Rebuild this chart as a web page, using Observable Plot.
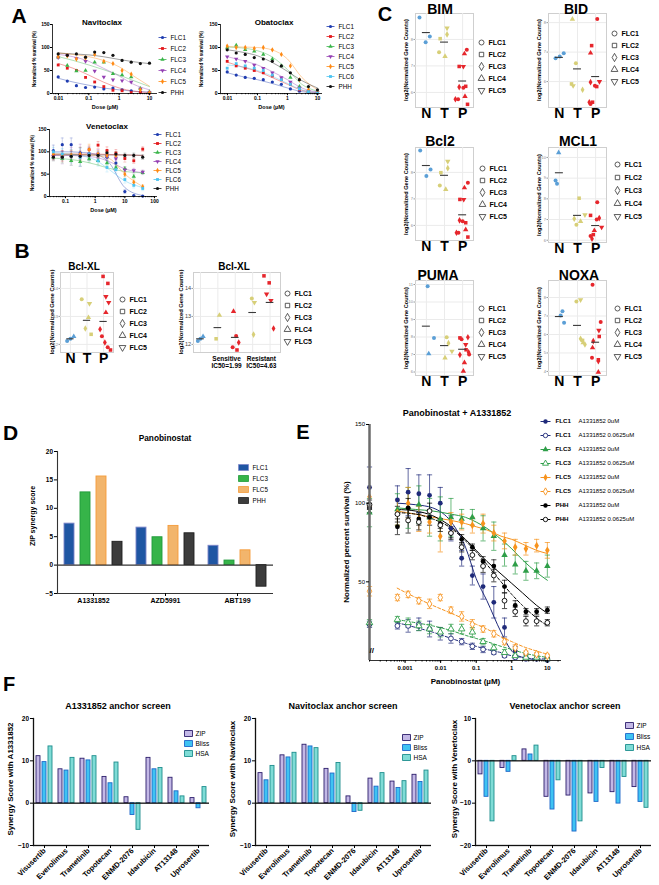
<!DOCTYPE html>
<html><head><meta charset="utf-8">
<script src="https://cdn.jsdelivr.net/npm/d3@7"></script>
<script src="https://cdn.jsdelivr.net/npm/@observablehq/plot@0.6"></script>
<style>
body{margin:0;background:#fff;}
#root{position:relative;width:659px;height:885px;overflow:hidden;background:#fff;font-family:"Liberation Sans",Arial,Helvetica,sans-serif;}
</style></head>
<body><div id="root"></div>
<script>
// ================= DATA =================
// ---- Panel A: dose-response ----
const aNames = ["FLC1","FLC2","FLC3","FLC4","FLC5","FLC6","PHH"];
const aColors = ["#1f3cb0","#e3191c","#3ab54a","#9440b3","#ff8a14","#4cc3f0","#111111"];
const aSymbols = ["circle","square","triangle","triangle","diamond","square","circle"];
const aRot = [0,0,0,180,0,0,0];
const aDoses = [0.00977,0.0195,0.039,0.078,0.156,0.3125,0.625,1.25,2.5,5,10];
const aFitDoses = [0.01,0.03,0.1,0.3,1,3,10];
const vDoses = [0.039,0.078,0.156,0.3125,0.625,1.25,2.5,5,10,20,40];
const vFitDoses = [0.04,0.1,0.3,1,3,10,40];
const navNames = ["FLC1","FLC2","FLC3","FLC4","FLC5","PHH"];
const navVals = [
  [36,27,17,13,14,10,12,8,6,3,2],
  [62,55,50,35,25,15,7,6,2,2,1],
  [79,61,49,50,68,68,43,40,36,11,4],
  [78,83,76,70,49,36,30,28,25,10,3],
  [80,82,75,77,85,70,65,50,42,8,2],
  [86,83,86,79,90,89,83,72,68,65,66]
];
const navFit = [
  [33,25,18,12,8,5,3],
  [65,55,40,25,12,5,2],
  [80,72,62,52,40,28,15],
  [85,80,70,55,38,20,8],
  [88,85,80,72,58,38,16],
  [88,86,84,80,74,69,65]
];
const obaNames = ["FLC1","FLC2","FLC3","FLC4","FLC5","FLC6","PHH"];
const obaVals = [
  [47,40,35,33,30,25,20,10,5,2,1],
  [70,60,55,50,45,38,30,20,8,3,1],
  [100,105,95,92,85,75,60,35,15,5,2],
  [80,75,70,62,55,45,35,25,12,5,2],
  [103,100,100,98,100,95,85,60,30,8,3],
  [55,65,60,55,50,40,30,20,10,4,1],
  [95,88,85,78,75,70,60,45,30,15,8]
];
const obaFit = [
  [45,37,30,22,12,4,1],
  [68,58,48,35,20,7,2],
  [101,99,93,80,52,20,5],
  [80,72,62,48,30,12,3],
  [102,101,100,95,75,35,8],
  [62,58,50,38,22,8,2],
  [95,90,82,68,48,28,12]
];
const venNames = ["FLC1","FLC2","FLC3","FLC4","FLC5","FLC6","PHH"];
const venVals = [
  [103,116,116,98,95,93,88,75,11,2,1],
  [92,90,90,92,105,115,103,97,85,80,106],
  [88,85,80,78,84,80,75,65,62,45,53],
  [90,88,90,92,95,95,90,85,60,58,55],
  [95,92,92,95,105,95,92,92,50,32,22],
  [100,95,90,88,95,80,65,60,38,25,18],
  [88,88,90,90,92,92,98,95,92,92,88]
];
const venErr = [
  [12,15,15,12,10,8,8,8,4,1,1],
  [10,12,12,10,8,8,8,8,8,6,5],
  [8,10,10,10,8,8,6,6,5,5,4],
  [10,15,20,25,15,10,8,6,6,5,4],
  [8,10,12,15,12,8,8,8,6,5,4],
  [10,12,15,20,15,12,10,8,8,6,5],
  [5,6,6,6,5,5,5,5,5,5,5]
];
const venFit = [
  [100,100,99,95,75,20,2],
  [95,95,95,95,94,93,92],
  [86,84,80,72,63,56,53],
  [92,92,91,88,78,62,53],
  [95,95,94,92,85,50,22],
  [98,96,92,82,60,35,20],
  [93,93,93,93,93,93,92]
];

// ---- Panels B & C: gene counts (x = group position with jitter, value, FLC index) ----
const cGroups = ["N","T","P"];
const cGroupColors = ["#5b9fd6","#d7cf78","#e6262c"];
const flcNames = ["FLC1","FLC2","FLC3","FLC4","FLC5"];
const flcSymbols = ["circle","square","diamond","triangle","triangle"];

const bLeftPts = [[0.8,12.12,0],[1.0,12.2,0],[1.2,12.28,3],
  [1.68,13.61,0],[2.15,13.46,4],[2.09,12.96,3],[1.9,12.57,2],[2.25,12.36,1],
  [2.97,14.43,1],[3.26,14.18,1],[3.14,13.71,4],[3.31,13.5,4],[3.14,13.14,3],[2.79,12.54,2],[2.9,12.29,0],[3.08,12.07,2],[3.25,11.9,0],[3.42,11.8,1]];
const bLeftMeans = [12.2,12.86,12.82];
const bRightGroups = ["N","T","P","T","P"];
const bRightPts = [[0.85,12.12,0],[1.0,12.2,0],[1.15,12.28,3],
  [2.09,13.04,3],[1.9,12.2,1],
  [2.9,13.18,3],[3.05,12.3,0],[3.2,12.07,2],[2.85,11.9,0],[3.1,11.8,1],
  [3.95,13.64,0],[4.1,13.5,4],[4.05,12.35,2],
  [4.65,14.45,1],[4.95,14.2,1],[4.8,13.8,4],[5.05,13.57,4],[5.2,12.57,2]];
const bRightMeans = [12.2,12.6,12.25,13.14,13.5];
const bTicks = [12,13,14];

const bimPts = [[0.62,8.83,0],[0.96,7.89,0],[1.19,8.11,0],
  [2.14,8.43,4],[2.14,8.19,2],[1.76,8.03,1],[1.7,7.52,0],[2.03,7.36,3],
  [3.23,7.61,0],[3.1,7.46,3],[2.81,6.98,1],[3.04,6.98,4],[2.81,6.2,2],[3.04,6.18,0],[3.17,6.23,1],[2.6,5.74,2],[2.75,5.74,0],[3.13,5.85,3],[3.27,5.55,1]];
const bimMeans = [8.26,7.9,6.43];
const bidPts = [[0.79,6.79,0],[1.02,6.85,0],[1.24,6.96,0],
  [1.72,8.12,3],[1.91,6.62,0],[1.67,5.92,1],[1.76,5.86,4],[2.28,5.72,2],
  [3.09,8.12,0],[2.78,7.22,1],[2.72,6.97,3],[2.72,5.98,2],[2.96,5.86,0],[3.06,5.83,1],[3.21,6.0,4],[2.65,5.3,2],[2.72,5.24,0],[2.83,5.3,1]];
const bidMeans = [6.82,6.43,6.17];
const bcl2Pts = [[0.66,8.83,0],[1.0,7.86,0],[1.23,8.11,0],
  [2.18,8.42,4],[2.18,8.16,2],[1.8,7.99,1],[1.74,7.51,0],[2.07,7.36,3],
  [3.29,7.61,0],[3.1,7.42,3],[2.85,6.98,1],[3.06,6.98,4],[2.83,6.19,2],[3.0,6.16,0],[3.17,6.1,1],[2.66,5.72,2],[2.77,5.72,0],[3.17,5.84,3],[3.29,5.56,1]];
const bcl2Means = [8.26,7.89,6.4];
const mcl1Pts = [[0.96,10.23,3],[0.79,8.89,0],[0.87,8.73,0],
  [2.09,8.03,1],[1.82,7.04,2],[1.94,6.75,0],[2.17,6.91,3],[2.41,7.23,4],
  [3.09,7.84,0],[2.72,7.2,1],[3.2,7.07,2],[3.06,7.0,0],[3.33,6.63,4],[2.93,6.47,3],[2.87,6.27,1],[2.72,6.2,0],[2.8,6.07,2]];
const mcl1Means = [9.26,7.2,6.71];
const pumaPts = [[1.07,10.9,0],[1.42,7.95,0],[1.13,7.04,3],
  [2.12,7.99,0],[2.22,7.65,2],[2.41,7.19,4],[2.03,6.81,3],
  [2.85,7.95,1],[2.94,7.87,0],[3.29,7.99,2],[3.51,8.09,0],[3.17,7.57,4],[3.19,7.27,1],[3.33,7.13,2],[3.36,7.0,0],[2.85,6.98,2],[3.1,6.53,3],[3.04,6.05,3]];
const pumaMeans = [8.62,7.51,7.3];
const noxaPts = [[1.17,7.26,0],[1.07,7.03,0],[1.26,6.63,0],
  [1.94,7.78,0],[2.17,7.87,4],[2.17,5.77,2],[2.28,5.68,1],[2.31,5.55,3],[2.41,5.46,2],
  [2.83,8.69,0],[3.28,6.67,0],[3.18,6.22,4],[3.2,5.89,1],[2.87,5.64,2],[2.83,5.28,3],[2.8,4.74,0],[3.15,4.63,1],[3.15,4.56,2],[3.15,3.96,3]];
const noxaMeans = [6.97,6.49,5.58];

// ---- Panel D ----
const dDrugs = ["A1331852","AZD5991","ABT199"];
const dLines = ["FLC1","FLC3","FLC5","PHH"];
const dVals = [[7.3,12.8,15.6,4.1],[6.6,4.9,6.9,5.6],[3.4,0.8,2.6,-3.8]];
const dFill = ["#1f56a3","#36b449","#f2b56c","#3c3c3c"];
const dStroke = ["#7d86c9","#1f9a3a","#f59b3a","#1e1e1e"];

// ---- Panel E ----
const eNames = ["FLC1","FLC1","FLC3","FLC3","FLC5","FLC5","PHH","PHH"];
const eConc = ["A1331852 0uM","A1331852 0.0625uM","A1331852 0uM","A1331852 0.0625uM","A1331852 0uM","A1331852 0.0625uM","A1331852 0uM","A1331852 0.0625uM"];
const eColors = ["#1f2a7a","#1f2a7a","#2e9e48","#2e9e48","#f7931e","#f7931e","#000000","#000000"];
const eSymbols = ["circle","circle","triangle","triangle","diamond","diamond","circle","circle"];
const eFilled = [true,false,true,false,true,false,true,false];
const eDoses = [0.00061,0.00122,0.00244,0.00488,0.00977,0.0195,0.039,0.078,0.156,0.3125,0.625,1.25,2.5,5,10];
const eVals = [
  [102,107,106,105,100,84,65,54,47,37,21,6,2,1,0],
  [22,22,23,20,17,14,12,9,7,5,3,2,1,1,1],
  [96,97,99,91,90,91,90,91,84,79,67,61,57,57,60],
  [26,24,22,20,18,20,20,18,12,8,5,3,2,2,1],
  [94,100,90,88,79,88,88,86,87,81,76,72,71,73,70],
  [40,42,38,36,40,32,28,23,20,17,12,8,5,4,3],
  [85,97,90,91,87,81,77,72,63,60,47,35,31,31,32],
  [93,89,88,95,86,81,72,67,60,54,38,31,25,25,24]
];
const eErr = [
  [9,15,12,13,10,8,5,6,8,10,6,3,2,1,1],
  [2,4,4,5,4,3,2,2,2,1,1,1,1,1,1],
  [10,13,12,12,14,12,6,5,8,9,7,6,6,5,7],
  [2,3,3,3,3,3,3,3,2,2,2,1,1,1,1],
  [8,10,8,7,10,6,5,5,6,5,5,5,4,4,5],
  [2,2,2,3,2,2,3,3,2,2,2,2,1,1,1],
  [5,6,4,5,3,3,3,2,3,4,4,3,2,2,2],
  [5,8,5,5,4,4,3,3,4,4,5,3,3,3,2]
];
const eCtrl = [110,23,94,24,104,44,97,99];
const eCtrlErr = [13,2,9,2,6,3,3,3];
const eFitDoses = [0.0006,0.002,0.006,0.02,0.05,0.1,0.2,0.5,1,2,5,10];
const eFits = [
  [100,99,97,88,72,52,38,18,6,2,0.5,0],
  [24,21,18,14,11,9,7,5,3,2,1,1],
  [97,96,95,93,91,88,84,77,71,64,56,51],
  [26,24,22,19,16,14,12,9,7,5,3,2],
  [95,93,91,89,87,85,83,79,77,74,70,68],
  [46,40,35,30,26,23,20,15,12,9,6,4],
  [96,95,92,85,77,70,63,55,49,43,35,30],
  [94,93,90,84,76,69,61,50,42,35,27,22]
];
const eXMin = 0.0001, eXMax = 25;
const eXTicks = [0.001,0.01,0.1,1,10];

// ---- Panel F ----
const fDrugs = ["Visusertib","Everolimus","Trametinib","Topotecan","ENMD-2076","Idarubicin","AT13148","Uprosertib"];
const fMetrics = ["ZIP","Bliss","HSA"];
const fFill = ["#c3b8e6","#3fc3f2","#7fdcd6"];
const fStroke = ["#2c1d6b","#1e66c8","#1d8d8d"];
const fA1331852 = [[11.1,9.7,13.4],[8.0,7.7,10.7],[10.5,10.1,11.1],[6.2,4.7,9.6],[1.4,-2.8,-6.3],[10.7,8.0,8.3],[6.0,2.8,1.6],[1.2,-1.2,3.8]];
const fNavitoclax = [[7.1,5.4,8.8],[11.3,10.8,11.9],[13.8,13.4,13.0],[8.1,7.0,9.5],[1.6,-2.1,-1.8],[5.8,3.9,7.1],[5.1,3.6,5.2],[6.7,5.0,7.7]];
const fVenetoclax = [[-3.2,-8.5,-14.3],[-1.7,-2.6,1.1],[2.7,1.5,3.6],[-8.5,-11.5,-4.6],[-8.2,-16.7,-14.3],[-7.7,-9.7,-1.7],[-7.4,-10.1,-3.8],[-6.2,-9.7,-11.1]];

// ================= HELPERS =================
const FF = '"Liberation Sans", Arial, Helvetica, sans-serif';
const root = document.getElementById("root");
const st = fs => ({fontFamily: FF, fontSize: fs + "px", background: "transparent", overflow: "visible", color: "#000"});
function put(node, left, top) {
  node.style.position = "absolute"; node.style.left = left + "px"; node.style.top = top + "px";
  root.appendChild(node); return node;
}
function txt(s, cx, cy, size, weight = "bold", rot = 0) {
  const d = document.createElement("div");
  d.textContent = s;
  d.style.cssText = `position:absolute;left:${cx}px;top:${cy}px;font-size:${size}px;font-weight:${weight};line-height:1;white-space:nowrap;color:#000;font-family:${FF};transform:translate(-50%,-50%) rotate(${rot}deg);`;
  root.appendChild(d);
}
const hbar = hw => ({draw(ctx) { ctx.moveTo(-hw, 0); ctx.lineTo(hw, 0); }});
const rectSym = (w, h) => ({draw(ctx) { ctx.rect(-w / 2, -h / 2, w, h); }});

function legendPlot(names, left, top, w, h, y0, y1, marks, scales = {}) {
  const svg = Plot.plot({
    width: w, height: h, marginTop: 0, marginBottom: 0, marginLeft: 0, marginRight: 0, style: st(6.5),
    y: {type: "point", domain: names, range: [y0, y1], padding: 0, axis: null},
    ...scales, marks
  });
  put(svg, left, top);
}

// ---------- Panel A ----------
function doseChart(c) {
  const rows = [], fit = [];
  c.names.forEach((n, i) => {
    c.doses.forEach((d, j) => rows.push({name: n, dose: d, v: c.vals[i][j], e: c.errs ? c.errs[i][j] : 0}));
    c.fitDoses.forEach((d, j) => fit.push({name: n, dose: d, v: c.fits[i][j]}));
  });
  const col = c.names.map(n => aColors[aNames.indexOf(n)]);
  const sym = c.names.map(n => aSymbols[aNames.indexOf(n)]);
  const cap = hbar(1.5);
  const errMarks = c.errs ? [
    Plot.ruleX(rows, {x: "dose", y1: d => Math.max(0, d.v - d.e), y2: d => d.v + d.e, stroke: "name", strokeWidth: 0.5, strokeOpacity: 0.45}),
    Plot.dot(rows, {x: "dose", y: d => d.v + d.e, symbol: cap, r: 1, stroke: "name", fill: "none", strokeWidth: 0.5, strokeOpacity: 0.45}),
    Plot.dot(rows, {x: "dose", y: d => Math.max(0, d.v - d.e), symbol: cap, r: 1, stroke: "name", fill: "none", strokeWidth: 0.5, strokeOpacity: 0.45})
  ] : [];
  const svg = Plot.plot({
    width: c.w, height: c.h, marginLeft: c.ml, marginRight: 3, marginTop: c.mt, marginBottom: 20,
    style: st(5),
    x: {type: "log", domain: c.xDomain},
    y: {domain: [0, 150]},
    color: {domain: c.names, range: col},
    symbol: {domain: c.names, range: sym},
    marks: [
      ...errMarks,
      Plot.line(fit, {x: "dose", y: "v", z: "name", stroke: "name", curve: "monotone-x", strokeWidth: 0.8, strokeOpacity: 0.5}),
      Plot.dot(rows, {x: "dose", y: "v", fill: "name", symbol: "name", r: 1.6, rotate: d => aRot[aNames.indexOf(d.name)]}),
      Plot.ruleY([0], {strokeWidth: 0.8}),
      Plot.ruleX([c.xDomain[0]], {strokeWidth: 0.8}),
      Plot.axisX({ticks: 40, tickSize: 1.2, tickFormat: () => "", label: null}),
      Plot.axisX(c.xTicks, {tickFormat: d => String(d), tickSize: 2.2, tickPadding: 1, fontWeight: "bold", label: null}),
      Plot.axisY([0, 50, 100, 150], {tickSize: 2, tickPadding: 1, fontWeight: "bold", label: null}),
      Plot.text(["Dose (µM)"], {frameAnchor: "bottom", dy: 15, text: d => d, fontSize: 5.5, fontWeight: "bold"})
    ]
  });
  put(svg, c.left, c.top);
  txt("Normalized % survival (%)", c.left + c.ml + c.labDx, c.top + c.mt + (c.h - c.mt - 20) / 2, 4.5, "bold", -90);
}
function aLegend(names, left, top, y0, y1) {
  const col = names.map(n => aColors[aNames.indexOf(n)]);
  const sym = names.map(n => aSymbols[aNames.indexOf(n)]);
  legendPlot(names, left, top, 50, y1 - top + 8, y0 - top, y1 - top, [
    Plot.dot(names, {y: d => d, frameAnchor: "left", dx: 6, symbol: hbar(4), r: 1, stroke: d => d, strokeWidth: 0.8, fill: "none"}),
    Plot.dot(names, {y: d => d, frameAnchor: "left", dx: 6, symbol: d => d, fill: d => d, r: 1.6, rotate: d => aRot[aNames.indexOf(d)]}),
    Plot.text(names, {y: d => d, frameAnchor: "left", dx: 14, text: d => d, textAnchor: "start", fontSize: 6.3})
  ], {color: {domain: names, range: col}, symbol: {domain: names, range: sym}});
}

doseChart({names: navNames, doses: aDoses, vals: navVals, fitDoses: aFitDoses, fits: navFit,
  xDomain: [0.00634, 18.4], xTicks: [0.01, 0.1, 1, 10], left: 0, top: 8, w: 160, h: 105, ml: 52, mt: 16, labDx: -17});
doseChart({names: obaNames, doses: aDoses, vals: obaVals, fitDoses: aFitDoses, fits: obaFit,
  xDomain: [0.00584, 14.7], xTicks: [0.01, 0.1, 1, 10], left: 168, top: 8, w: 157, h: 105, ml: 52, mt: 16, labDx: -18});
doseChart({names: venNames, doses: vDoses, vals: venVals, errs: venErr, fitDoses: vFitDoses, fits: venFit,
  xDomain: [0.0289, 126], xTicks: [0.1, 1, 10, 100], left: 0, top: 113, w: 160, h: 103, ml: 49, mt: 16, labDx: -16});
aLegend(navNames, 156, 30, 35, 93);
aLegend(obaNames, 324, 20, 25, 86);
aLegend(venNames, 151, 127, 132, 189);
txt("Navitoclax", 102, 23, 8);
txt("Obatoclax", 274, 23, 8);
txt("Venetoclax", 107, 127, 8);

// ---------- Panels B & C ----------
function geneChart(c) {
  const groups = c.groups || cGroups;
  const rows = c.pts.map(([x, v, s]) => ({x, v, f: flcNames[s], g: groups[Math.round(x) - 1]}));
  const mrows = c.means.map((v, i) => ({x: i + 1, v}));
  const svg = Plot.plot({
    width: c.w, height: c.h, marginLeft: c.ml, marginRight: 2, marginTop: c.mt, marginBottom: c.mb, style: st(5),
    x: {domain: c.xDomain || [0.4, 3.6]}, y: {domain: c.yDomain},
    color: {domain: cGroups, range: cGroupColors},
    symbol: {domain: flcNames, range: flcSymbols},
    marks: [
      Plot.frame({fill: "white", stroke: "#cfcfcf"}),
      Plot.gridX(c.gridX || [1, 2, 3], {stroke: "#ebebeb", strokeOpacity: 1}),
      Plot.gridY(c.yTicks, {stroke: "#ebebeb", strokeOpacity: 1}),
      Plot.dot(rows, {x: "x", y: "v", fill: "g", symbol: "f", r: 2, rotate: d => d.f === "FLC5" ? 180 : 0}),
      Plot.ruleY(mrows, {y: "v", x1: d => d.x - 0.22, x2: d => d.x + 0.22, stroke: "#3a3a3a", strokeWidth: 1.1}),
      Plot.axisX(c.xTicks || [1, 2, 3], {tickFormat: c.xFormat || (d => cGroups[d - 1]), tickSize: 0, tickPadding: c.xPad ?? 1,
        fontSize: c.xFont || 14, fontWeight: "bold", label: null}),
      Plot.axisY(c.yTicks, {tickSize: 1.5, tickPadding: 1, fontSize: c.yFont || 4, stroke: "#999", fill: c.yFill || "#8a8a8a", label: null})
    ]
  });
  put(svg, c.left, c.top);
  const fTop = c.top + c.mt, fBot = c.top + c.h - c.mb;
  txt("log2(Normalized Gene Counts)", c.left + c.ml + (c.labDx || -8), (fTop + fBot) / 2, c.labFont || 5.6, "bold", -90);
}
function cLegend(left, top, y0, y1) {
  legendPlot(flcNames, left, top, 40, y1 - top + 8, y0 - top, y1 - top, [
    Plot.dot(flcNames, {y: d => d, frameAnchor: "left", dx: 4, symbol: d => d, stroke: "#333", fill: "none", strokeWidth: 0.8, r: 2.5, rotate: d => d === "FLC5" ? 180 : 0}),
    Plot.text(flcNames, {y: d => d, frameAnchor: "left", dx: 11, text: d => d, textAnchor: "start", fontSize: 7, fontWeight: "bold"})
  ], {symbol: {domain: flcNames, range: flcSymbols}});
}

// B
geneChart({pts: bLeftPts, means: bLeftMeans, yDomain: [11.71, 14.57], yTicks: bTicks, left: 40, top: 262, w: 75, h: 110, ml: 20, mt: 10, mb: 20, labDx: -7, labFont: 5.8});
geneChart({pts: bRightPts, means: bRightMeans, groups: bRightGroups, yDomain: [11.71, 14.57], yTicks: bTicks,
  xDomain: [0.6, 5.6], gridX: [1, 2, 3, 4, 5], xTicks: [2.5, 4.5], xFormat: d => d < 3 ? "Sensitive\nIC50=1.99" : "Resistant\nIC50=4.63",
  xFont: 6.5, xPad: 4, yFont: 5.5, yFill: "#444", left: 170, top: 262, w: 112, h: 110, ml: 23, mt: 10, mb: 20, labDx: -11, labFont: 5.8});
cLegend(118, 290, 298, 348);
cLegend(283, 284, 292, 341);
txt("Bcl-XL", 84, 267, 10);
txt("Bcl-XL", 234, 267, 10);

// C
geneChart({pts: bimPts, means: bimMeans, yDomain: [5.43, 8.98], yTicks: [6, 7, 8], left: 400, top: 0, w: 75, h: 125, ml: 15, mt: 13, mb: 18});
geneChart({pts: bidPts, means: bidMeans, yDomain: [5.12, 8.31], yTicks: [6, 7, 8], left: 533, top: 0, w: 75, h: 125, ml: 15, mt: 13, mb: 18});
geneChart({pts: bcl2Pts, means: bcl2Means, yDomain: [5.43, 8.94], yTicks: [6, 7, 8], left: 400, top: 134, w: 75, h: 124, ml: 15, mt: 13, mb: 18});
geneChart({pts: mcl1Pts, means: mcl1Means, yDomain: [5.89, 10.48], yTicks: [6, 7, 8, 9, 10], left: 533, top: 134, w: 75, h: 126, ml: 15, mt: 13, mb: 18});
geneChart({pts: pumaPts, means: pumaMeans, yDomain: [5.8, 11.23], yTicks: [6, 7, 8, 9, 10, 11], left: 400, top: 267, w: 75, h: 126, ml: 15, mt: 13, mb: 18});
geneChart({pts: noxaPts, means: noxaMeans, yDomain: [3.78, 8.92], yTicks: [4, 5, 6, 7, 8], left: 533, top: 267, w: 75, h: 126, ml: 15, mt: 13, mb: 18});
cLegend(477, 34, 41, 90);
cLegend(610, 24, 32, 81);
cLegend(478, 160, 167, 217);
cLegend(613, 157, 164, 216);
cLegend(477, 299, 306, 357);
cLegend(613, 299, 306, 357);
txt("BIM", 440, 9, 14);
txt("BID", 576, 9, 14);
txt("Bcl2", 440, 141, 14);
txt("MCL1", 578, 141, 14);
txt("PUMA", 438, 275, 14);
txt("NOXA", 579, 275, 14);

// ---------- Panel D ----------
{
  const rows = [];
  dDrugs.forEach((dr, i) => dLines.forEach((l, j) => rows.push({drug: dr, line: l, j, v: dVals[i][j]})));
  const svg = Plot.plot({
    width: 280, height: 180, marginLeft: 56, marginRight: 7, marginTop: 21, marginBottom: 17, style: st(6.5),
    fx: {domain: dDrugs, padding: 0},
    x: {domain: dLines, paddingInner: 0.36, paddingOuter: 0.3, axis: null},
    y: {domain: [-5, 20]},
    color: {type: "identity"},
    marks: [
      Plot.barY(rows, {fx: "drug", x: "line", y: "v", fill: d => dFill[d.j], stroke: d => dStroke[d.j], strokeWidth: 0.9}),
      Plot.ruleY([0], {stroke: "#333", strokeWidth: 1.1}),
      Plot.ruleY([-5], {stroke: "#333", strokeWidth: 1.1}),
      Plot.frame({anchor: "left", facetAnchor: "left", stroke: "#333", strokeWidth: 1.1}),
      Plot.axisY([-5, 0, 5, 10, 15, 20], {tickSize: 3, tickPadding: 1.5, fontWeight: "bold", label: null}),
      Plot.axisFx({anchor: "bottom", tickSize: 3, tickPadding: 2, fontWeight: "bold", fontSize: 7, label: null})
    ]
  });
  put(svg, 0, 430);
  legendPlot(dLines, 236, 460, 50, 45, 7, 40, [
    Plot.dot(dLines, {y: d => d, frameAnchor: "left", dx: 7, symbol: rectSym(10, 6), r: 1, fill: d => dFill[dLines.indexOf(d)], stroke: d => dStroke[dLines.indexOf(d)], strokeWidth: 0.8}),
    Plot.text(dLines, {y: d => d, frameAnchor: "left", dx: 16, text: d => d, textAnchor: "start", fontSize: 6.3})
  ], {color: {type: "identity"}});
  txt("Panobinostat", 165, 438, 8.3);
  txt("ZIP synergy score", 32, 516, 7, "bold", -90);
}

// ---------- Panel E ----------
{
  const keys = eNames.map((n, i) => n + " " + eConc[i]);
  const rows = [], fit = [];
  keys.forEach((k, i) => {
    rows.push({k, i, dose: eXMin, v: eCtrl[i], e: eCtrlErr[i]});
    eDoses.forEach((d, j) => rows.push({k, i, dose: d, v: eVals[i][j], e: eErr[i][j]}));
    eFitDoses.forEach((d, j) => fit.push({k, i, dose: d, v: eFits[i][j]}));
  });
  const cap = hbar(2.6);
  const svg = Plot.plot({
    width: 235, height: 275, marginLeft: 39, marginRight: 4, marginTop: 6, marginBottom: 33, style: st(6),
    x: {type: "log", domain: [eXMin, eXMax]},
    y: {domain: [0, 150]},
    color: {domain: keys, range: eColors},
    symbol: {domain: keys, range: eSymbols},
    marks: [
      Plot.line(fit.filter(d => eFilled[d.i]), {x: "dose", y: "v", z: "k", stroke: "k", curve: "monotone-x", strokeWidth: 1}),
      Plot.line(fit.filter(d => !eFilled[d.i]), {x: "dose", y: "v", z: "k", stroke: "k", curve: "monotone-x", strokeWidth: 1, strokeDasharray: "3,2"}),
      Plot.ruleX(rows, {x: "dose", y1: d => Math.max(0, d.v - d.e), y2: d => d.v + d.e, stroke: "k", strokeWidth: 0.7}),
      Plot.dot(rows, {x: "dose", y: d => d.v + d.e, symbol: cap, r: 1, stroke: "k", fill: "none", strokeWidth: 0.7}),
      Plot.dot(rows, {x: "dose", y: d => Math.max(0, d.v - d.e), symbol: cap, r: 1, stroke: "k", fill: "none", strokeWidth: 0.7}),
      Plot.dot(rows.filter(d => eFilled[d.i]), {x: "dose", y: "v", symbol: "k", fill: "k", r: 2.4}),
      Plot.dot(rows.filter(d => !eFilled[d.i]), {x: "dose", y: "v", symbol: "k", stroke: "k", fill: "white", r: 2.4, strokeWidth: 0.9}),
      Plot.ruleX([eXMin], {stroke: "#6b6b6b", strokeWidth: 2.5}),
      Plot.ruleY([0], {stroke: "#333", strokeWidth: 1}),
      Plot.axisX({ticks: 60, tickSize: 1.5, tickFormat: () => "", label: null}),
      Plot.axisX(eXTicks, {tickFormat: d => String(d), tickSize: 3, tickPadding: 2, fontWeight: "bold", fontSize: 6, label: null}),
      Plot.axisY([50, 100, 150], {tickSize: 3, tickPadding: 1.5, fontSize: 6, label: null}),
      Plot.text(["//"], {frameAnchor: "bottom-left", dy: -8, text: d => d, fontSize: 8, fontWeight: "bold"}),
      Plot.text(["Panobinostat (µM)"], {frameAnchor: "bottom", dy: 23, text: d => d, fontSize: 8, fontWeight: "bold"})
    ]
  });
  put(svg, 330, 418);
  txt("Normalized percent survival (%)", 347, 542, 8, "bold", -90);
  legendPlot(keys, 541, 412, 118, 115, 8, 107, [
    Plot.dot(keys, {y: d => d, frameAnchor: "left", dx: 4, symbol: hbar(5), r: 1, stroke: d => d, fill: "none", strokeWidth: 1}),
    Plot.dot(keys.filter((k, i) => eFilled[i]), {y: d => d, frameAnchor: "left", dx: 4, symbol: d => d, fill: d => d, r: 2.2}),
    Plot.dot(keys.filter((k, i) => !eFilled[i]), {y: d => d, frameAnchor: "left", dx: 4, symbol: d => d, stroke: d => d, fill: "white", r: 2.2, strokeWidth: 0.9}),
    Plot.text(keys, {y: d => d, frameAnchor: "left", dx: 14, text: d => eNames[keys.indexOf(d)], textAnchor: "start", fontSize: 6.2, fontWeight: "bold"}),
    Plot.text(keys, {y: d => d, frameAnchor: "left", dx: 37, text: d => eConc[keys.indexOf(d)], textAnchor: "start", fontSize: 6})
  ], {color: {domain: keys, range: eColors}, symbol: {domain: keys, range: eSymbols}});
  txt("Panobinostat + A1331852", 457, 413, 9);
}

// ---------- Panel F ----------
function synChart(vals, yDomain, yTicks, left, w) {
  const rows = [];
  fDrugs.forEach((dr, i) => fMetrics.forEach((m, j) => rows.push({drug: dr, m, j, v: vals[i][j]})));
  const svg = Plot.plot({
    width: w, height: 185, marginLeft: 31, marginRight: 5, marginTop: 18, marginBottom: 40, style: st(6.5),
    fx: {domain: fDrugs, padding: 0},
    x: {domain: fMetrics, paddingInner: 0.35, paddingOuter: 0.48, axis: null},
    y: {domain: yDomain},
    color: {type: "identity"},
    marks: [
      Plot.barY(rows, {fx: "drug", x: "m", y: "v", fill: d => fFill[d.j], stroke: d => fStroke[d.j], strokeWidth: 0.9}),
      Plot.ruleY([0], {stroke: "#111", strokeWidth: 1.3}),
      Plot.ruleY([yDomain[0]], {stroke: "#111", strokeWidth: 1.3}),
      Plot.frame({anchor: "left", facetAnchor: "left", stroke: "#111", strokeWidth: 1.3}),
      Plot.axisY(yTicks, {tickSize: 3, tickPadding: 1.5, fontWeight: "bold", fontSize: 6.5, label: null}),
      Plot.axisFx({anchor: "bottom", tickRotate: -45, tickSize: 3, tickPadding: 1, fontWeight: "bold", fontSize: 7.5, label: null})
    ]
  });
  put(svg, left, 700);
}
function fLegend(left, top, y0, y1) {
  legendPlot(fMetrics, left, top, 36, y1 - top + 8, y0 - top, y1 - top, [
    Plot.dot(fMetrics, {y: d => d, frameAnchor: "left", dx: 6, symbol: rectSym(8, 6), r: 1, fill: d => fFill[fMetrics.indexOf(d)], stroke: d => fStroke[fMetrics.indexOf(d)], strokeWidth: 0.9}),
    Plot.text(fMetrics, {y: d => d, frameAnchor: "left", dx: 13, text: d => d, textAnchor: "start", fontSize: 6.5})
  ], {color: {type: "identity"}});
}
synChart(fA1331852, [-10, 20], [-10, 0, 10, 20], 0, 215);
synChart(fNavitoclax, [-10, 20], [-10, 0, 10, 20], 222, 216);
synChart(fVenetoclax, [-20, 10], [-20, -10, 0, 10], 441, 217);
fLegend(182, 725, 732, 753);
fLegend(400, 729, 736, 757);
fLegend(623, 718, 725, 747);
txt("A1331852 anchor screen", 118, 706, 9);
txt("Navitoclax anchor screen", 343, 706, 9);
txt("Venetoclax anchor screen", 565, 706, 9);
txt("Synergy Score with A1331852", 11, 779, 8, "bold", -90);
txt("Synergy Score with Navitoclax", 233, 779, 8, "bold", -90);
txt("Synergy Score with Venetoclax", 455, 779, 8, "bold", -90);

// ---------- Panel letters ----------
txt("A", 19, 14.5, 21);
txt("B", 22, 250, 21);
txt("C", 385, 13.5, 20);
txt("D", 10.5, 431.5, 21);
txt("E", 303, 432, 20);
txt("F", 9, 683.5, 20);
</script></body></html>
